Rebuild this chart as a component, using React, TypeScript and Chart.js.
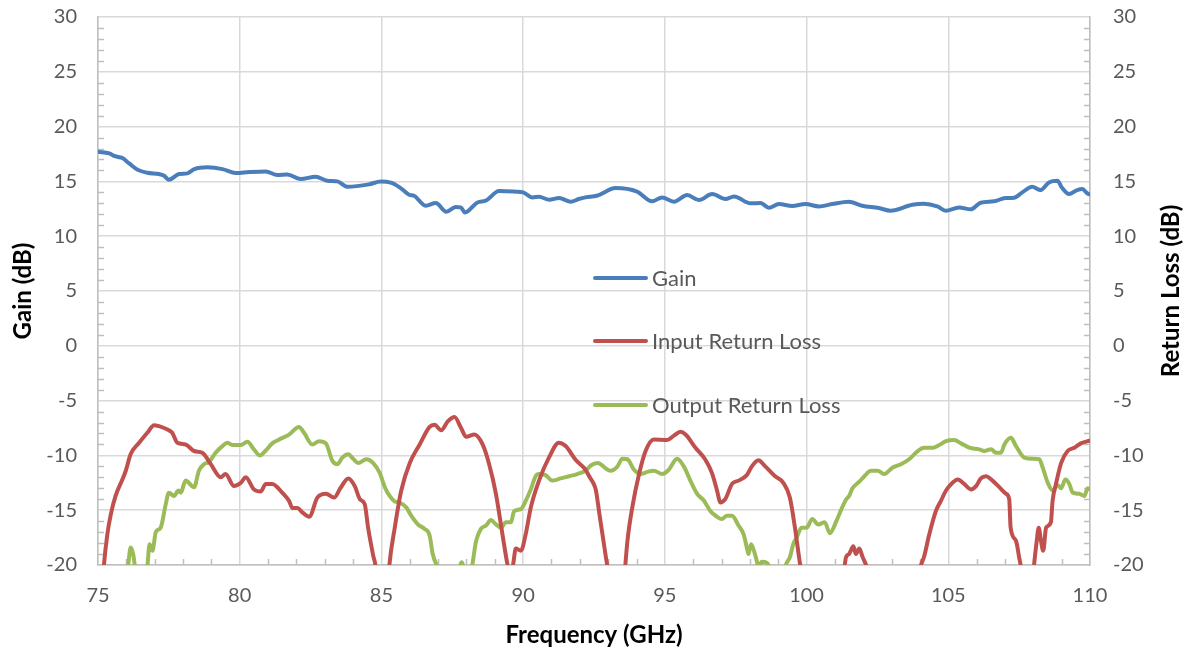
import React, { useEffect, useRef } from 'react';
import { Chart, registerables } from 'chart.js';

Chart.register(...registerables);

// ---------- data ----------
const gainFreq = [75.0, 75.4, 75.6, 75.86, 76.1, 76.4, 76.74, 77.15, 77.33, 77.5, 77.86, 78.15, 78.4, 78.86, 79.39, 79.86, 80.33, 80.92, 81.33, 81.68, 82.15, 82.68, 83.09, 83.45, 83.8, 84.56, 84.98, 85.33, 85.68, 85.98, 86.15, 86.56, 86.92, 87.29, 87.62, 87.8, 87.95, 88.39, 88.68, 89.15, 89.74, 90.0, 90.33, 90.56, 90.92, 91.27, 91.68, 91.96, 92.2, 92.6, 93.26, 94.02, 94.55, 94.9, 95.32, 95.79, 96.2, 96.67, 97.14, 97.44, 98.02, 98.38, 98.67, 99.02, 99.49, 99.96, 100.44, 100.9, 101.49, 101.96, 102.55, 102.96, 103.73, 104.14, 104.61, 104.91, 105.38, 105.79, 106.14, 106.61, 107.02, 107.32, 107.61, 107.96, 108.26, 108.55, 108.85, 109.02, 109.26, 109.55, 109.73, 109.91, 110.0];
const gainDb = [17.7, 17.55, 17.3, 17.13, 16.64, 16.06, 15.79, 15.67, 15.52, 15.15, 15.67, 15.73, 16.12, 16.28, 16.12, 15.76, 15.85, 15.91, 15.58, 15.64, 15.21, 15.43, 15.06, 15.0, 14.51, 14.73, 15.0, 14.88, 14.39, 13.78, 13.69, 12.78, 13.02, 12.23, 12.66, 12.63, 12.17, 13.08, 13.24, 14.12, 14.06, 14.0, 13.54, 13.6, 13.33, 13.48, 13.15, 13.39, 13.54, 13.69, 14.39, 14.06, 13.18, 13.54, 13.15, 13.75, 13.3, 13.84, 13.39, 13.63, 13.0, 13.02, 12.6, 12.93, 12.75, 12.93, 12.72, 12.93, 13.15, 12.78, 12.57, 12.33, 12.87, 12.96, 12.72, 12.33, 12.63, 12.45, 13.05, 13.18, 13.48, 13.51, 14.0, 14.51, 14.21, 14.91, 15.06, 14.39, 13.84, 14.21, 14.3, 13.9, 13.8];

const irlFreq = [75.0, 75.21, 75.33, 75.45, 75.62, 75.86, 75.98, 76.15, 76.45, 76.74, 76.98, 77.15, 77.45, 77.62, 77.8, 78.09, 78.39, 78.68, 78.98, 79.33, 79.5, 79.8, 80.04, 80.21, 80.5, 80.74, 80.92, 81.15, 81.5, 81.74, 81.86, 82.04, 82.21, 82.45, 82.74, 83.04, 83.33, 83.55, 83.83, 84.06, 84.24, 84.41, 84.53, 84.71, 84.8, 85.03, 85.27, 85.47, 85.7, 86.0, 86.35, 86.7, 86.87, 87.11, 87.34, 87.58, 87.81, 87.99, 88.28, 88.57, 88.8, 89.04, 89.27, 89.45, 89.55, 89.65, 89.74, 89.92, 90.09, 90.27, 90.56, 90.91, 91.26, 91.5, 91.85, 92.2, 92.33, 92.49, 92.56, 92.7, 92.92, 92.98, 93.3, 93.6, 93.68, 93.85, 94.09, 94.32, 94.61, 95.08, 95.32, 95.55, 95.73, 96.08, 96.43, 96.66, 96.84, 96.96, 97.13, 97.37, 97.6, 97.89, 98.07, 98.3, 98.54, 98.89, 99.18, 99.41, 99.59, 99.77, 99.85, 100.6, 101.3, 101.39, 101.5, 101.65, 101.74, 101.86, 101.98, 102.1, 102.2, 103.1, 103.95, 104.04, 104.15, 104.33, 104.56, 104.74, 104.92, 105.15, 105.33, 105.56, 105.8, 105.98, 106.15, 106.33, 106.56, 106.8, 107.04, 107.15, 107.2, 107.39, 107.5, 107.56, 107.8, 108.02, 108.12, 108.19, 108.27, 108.35, 108.45, 108.62, 108.68, 108.8, 108.98, 109.21, 109.45, 109.68, 109.92, 110.0];
const irlDb = [-28, -20, -17.2, -15.4, -13.7, -12.2, -11.4, -9.9, -8.85, -7.94, -7.24, -7.33, -7.64, -7.94, -8.85, -9.0, -9.6, -9.76, -10.8, -12.0, -11.7, -12.8, -12.5, -12.0, -13.1, -13.3, -12.6, -12.6, -13.4, -14.15, -14.8, -14.8, -15.2, -15.6, -13.85, -13.5, -13.85, -13.0, -12.1, -12.8, -14.0, -14.45, -16.6, -19.15, -20.3, -30, -20.3, -16.6, -13.2, -10.7, -9.0, -7.4, -7.2, -7.7, -6.9, -6.5, -7.5, -8.3, -8.1, -9.0, -10.8, -13.5, -17.2, -20.0, -21, -19.9, -18.5, -18.7, -17.2, -14.75, -12.3, -10.2, -8.85, -9.15, -10.4, -11.3, -11.9, -12.6, -13.1, -15.5, -19.3, -20.3, -30, -20.2, -17.8, -14.75, -11.7, -9.6, -8.55, -8.6, -8.2, -7.85, -8.1, -9.3, -10.4, -11.6, -13.2, -14.3, -14.0, -12.6, -12.3, -11.8, -11.0, -10.45, -11.0, -11.9, -12.5, -13.85, -16.6, -19.9, -21, -30, -21, -19.3, -19.0, -18.3, -19.0, -18.5, -19.3, -20.0, -21, -30, -21, -20, -19.2, -17.2, -15.1, -14.15, -13.2, -12.5, -12.2, -12.6, -13.1, -12.8, -12.1, -11.9, -12.3, -12.9, -13.5, -14.0, -16.6, -17.8, -19.3, -20.2, -28, -20.2, -17.8, -16.6, -17.8, -18.7, -16.6, -16.1, -14.15, -12.6, -10.7, -9.6, -9.3, -8.9, -8.7, -8.65];

const orlFreq = [75.95, 76.07, 76.15, 76.24, 76.31, 76.5, 76.74, 76.82, 76.92, 77.04, 77.21, 77.39, 77.5, 77.68, 77.84, 77.92, 78.09, 78.39, 78.56, 78.74, 78.92, 79.15, 79.39, 79.56, 79.74, 80.04, 80.27, 80.5, 80.71, 80.92, 81.15, 81.39, 81.74, 82.09, 82.27, 82.56, 82.8, 83.04, 83.27, 83.45, 83.62, 83.83, 84.0, 84.18, 84.47, 84.71, 84.94, 85.12, 85.29, 85.47, 85.64, 85.88, 86.05, 86.29, 86.52, 86.7, 86.81, 86.93, 87.05, 87.3, 87.6, 87.75, 87.83, 87.93, 88.16, 88.34, 88.51, 88.69, 88.86, 89.04, 89.22, 89.39, 89.57, 89.68, 89.92, 90.09, 90.27, 90.44, 90.56, 90.79, 91.03, 91.32, 91.62, 91.91, 92.2, 92.4, 92.62, 93.09, 93.33, 93.5, 93.68, 93.91, 94.15, 94.38, 94.61, 94.91, 95.14, 95.43, 95.67, 95.9, 96.14, 96.37, 96.61, 96.84, 97.01, 97.19, 97.37, 97.6, 97.78, 97.89, 97.95, 98.04, 98.13, 98.24, 98.3, 98.42, 98.6, 98.71, 99.0, 99.3, 99.41, 99.53, 99.65, 99.82, 100.0, 100.2, 100.41, 100.64, 100.82, 101.05, 101.23, 101.4, 101.5, 101.62, 101.86, 102.04, 102.27, 102.51, 102.74, 103.04, 103.33, 103.62, 103.92, 104.15, 104.45, 104.68, 104.92, 105.21, 105.45, 105.74, 106.09, 106.27, 106.51, 106.68, 106.86, 106.98, 107.21, 107.39, 107.68, 107.98, 108.21, 108.33, 108.51, 108.68, 108.86, 108.98, 109.13, 109.27, 109.39, 109.62, 109.8, 109.92, 110.0];
const orlDb = [-22, -19.9, -18.4, -19.0, -20.3, -25, -20.2, -18.1, -18.7, -17.0, -16.6, -14.45, -13.4, -13.7, -13.2, -13.4, -12.3, -12.9, -11.4, -10.8, -10.6, -9.75, -9.15, -8.85, -9.05, -9.05, -8.75, -9.45, -10.0, -9.55, -8.9, -8.55, -8.1, -7.4, -7.94, -9.0, -8.7, -8.9, -10.5, -10.8, -10.2, -9.9, -10.3, -10.7, -10.35, -10.7, -11.6, -12.9, -13.7, -14.2, -14.3, -14.75, -15.5, -16.3, -16.7, -17.3, -19.0, -19.9, -20.3, -20.4, -20.3, -20.2, -19.75, -20.3, -20.3, -17.8, -16.7, -16.4, -15.9, -16.3, -16.6, -16.1, -16.1, -15.1, -14.9, -14.15, -13.1, -11.9, -11.7, -11.8, -12.3, -12.1, -11.9, -11.7, -11.4, -10.9, -10.7, -11.4, -11.0, -10.3, -10.35, -11.3, -11.7, -11.5, -11.4, -11.7, -11.3, -10.3, -11.0, -12.3, -13.5, -14.1, -15.1, -15.6, -15.8, -15.5, -15.5, -16.4, -17.2, -18.4, -19.0, -18.1, -18.6, -19.6, -20.2, -19.7, -19.8, -20.3, -22, -19.8, -19.3, -18.1, -17.5, -16.6, -16.6, -15.8, -16.3, -16.1, -17.1, -16.0, -14.9, -14.0, -13.7, -13.0, -12.4, -11.9, -11.4, -11.4, -11.7, -11.1, -10.8, -10.35, -9.6, -9.3, -9.3, -9.05, -8.7, -8.6, -8.9, -9.3, -9.45, -9.6, -9.45, -9.75, -9.75, -9.0, -8.4, -9.15, -10.2, -10.3, -10.35, -11.1, -12.5, -13.2, -12.7, -13.0, -12.2, -12.6, -13.4, -13.5, -13.7, -13.0, -13.1];

const seriesLabels = ['Gain', 'Input Return Loss', 'Output Return Loss'];
const seriesColors = ['#4a7ebb', '#c0504d', '#9bbb59'];

const xMin = 75, xMax = 110, xStep = 5, xMinorStep = 1;
const yMin = -20, yMax = 30, yStep = 5, yMinorStep = 1;

const xTitle = 'Frequency (GHz)';
const yLeftTitle = 'Gain (dB)';
const yRightTitle = 'Return Loss (dB)';

const FONT = 'Lato';
const TEXT = '#595959';
const GRID = '#d9d9d9';
const AXIS = '#bfbfbf';

const toPoints = (xs: number[], ys: number[]) => xs.map((x, i) => ({ x, y: ys[i] }));

const minorTicksPlugin = {
  id: 'minorTicks',
  beforeDatasetsDraw(chart: any) {
    const { ctx, chartArea } = chart;
    const { left, right, bottom } = chartArea;
    const x = chart.scales.x;
    const y = chart.scales.y;
    ctx.save();
    ctx.strokeStyle = AXIS;
    ctx.lineWidth = 1.5;
    ctx.beginPath();
    for (let v = yMin; v <= yMax; v += yMinorStep) {
      if (v % yStep === 0) continue;
      const py = Math.round(y.getPixelForValue(v)) + 0.5;
      ctx.moveTo(left, py);
      ctx.lineTo(left + 6, py);
      ctx.moveTo(right - 6, py);
      ctx.lineTo(right, py);
    }
    for (let f = xMin; f <= xMax; f += xMinorStep) {
      if (f % xStep === 0) continue;
      const px = Math.round(x.getPixelForValue(f)) + 0.5;
      ctx.moveTo(px, bottom);
      ctx.lineTo(px, bottom - 6);
    }
    ctx.stroke();
    ctx.restore();
  },
};

const titlesLegendPlugin = {
  id: 'titlesLegend',
  afterDraw(chart: any) {
    const { ctx, chartArea } = chart;
    const cy = (chartArea.top + chartArea.bottom) / 2;
    const cx = (chartArea.left + chartArea.right) / 2;
    ctx.save();
    ctx.fillStyle = '#000';
    ctx.font = `bold 24px ${FONT}`;
    ctx.textAlign = 'center';
    ctx.textBaseline = 'middle';
    ctx.fillText(xTitle, cx, 635);
    ctx.save();
    ctx.translate(23, cy);
    ctx.rotate(-Math.PI / 2);
    ctx.fillText(yLeftTitle, 0, 0);
    ctx.restore();
    ctx.save();
    ctx.translate(1171, cy);
    ctx.rotate(-Math.PI / 2);
    ctx.fillText(yRightTitle, 0, 0);
    ctx.restore();

    // legend
    const legendYs = [278, 341, 405];
    ctx.font = `22px ${FONT}`;
    ctx.textAlign = 'left';
    chart.data.datasets.forEach((ds: any, i: number) => {
      const ly = legendYs[i];
      ctx.strokeStyle = ds.borderColor;
      ctx.lineWidth = 4;
      ctx.lineCap = 'round';
      ctx.beginPath();
      ctx.moveTo(595, ly);
      ctx.lineTo(646, ly);
      ctx.stroke();
      ctx.fillStyle = TEXT;
      ctx.fillText(ds.label, 652, ly + 1);
    });
    ctx.restore();
  },
};

const fitVertical = (w: number) => (s: any) => {
  s.width = w;
  s.paddingTop = 0;
  s.paddingBottom = 0;
};

export default function App() {
  const ref = useRef<HTMLCanvasElement>(null);
  useEffect(() => {
    document.body.style.margin = '0';
    const series = [
      toPoints(gainFreq, gainDb),
      toPoints(irlFreq, irlDb),
      toPoints(orlFreq, orlDb),
    ];
    const chart = new Chart(ref.current as HTMLCanvasElement, {
      type: 'line',
      data: {
        datasets: series.map((data, i) => ({
          label: seriesLabels[i],
          data,
          borderColor: seriesColors[i],
          backgroundColor: seriesColors[i],
          borderWidth: 4,
          pointRadius: 0,
          tension: 0.4,
          cubicInterpolationMode: 'monotone' as const,
          borderCapStyle: 'round' as const,
          borderJoinStyle: 'round' as const,
          yAxisID: 'y',
        })),
      },
      options: {
        animation: false,
        responsive: false,
        events: [],
        layout: { padding: { top: 17, left: 0, right: 0, bottom: 0 } },
        plugins: { legend: { display: false }, tooltip: { enabled: false } },
        scales: {
          x: {
            type: 'linear',
            min: xMin,
            max: xMax,
            afterFit: (s: any) => { s.height = 86; s.paddingLeft = 0; s.paddingRight = 0; },
            ticks: { stepSize: xStep, color: TEXT, font: { family: FONT, size: 20 }, padding: 19, maxRotation: 0 },
            grid: { color: GRID, lineWidth: 1.5, drawTicks: false },
            border: { color: AXIS, width: 1.5 },
          },
          y: {
            type: 'linear',
            position: 'left',
            min: yMin,
            max: yMax,
            afterFit: fitVertical(98),
            ticks: { stepSize: yStep, color: TEXT, font: { family: FONT, size: 20 }, padding: 21 },
            grid: { color: GRID, lineWidth: 1.5, drawTicks: false },
            border: { color: AXIS, width: 1.5 },
          },
          y2: {
            type: 'linear',
            position: 'right',
            min: yMin,
            max: yMax,
            afterFit: fitVertical(97),
            ticks: { stepSize: yStep, color: TEXT, font: { family: FONT, size: 20 }, padding: 23 },
            grid: { drawOnChartArea: false, drawTicks: false },
            border: { color: AXIS, width: 1.5 },
          },
        },
      },
      plugins: [minorTicksPlugin, titlesLegendPlugin],
    });
    return () => chart.destroy();
  }, []);
  return (
    <div style={{ width: 1187, height: 651, position: 'relative' }}>
      <canvas ref={ref} width={1187} height={651} />
    </div>
  );
}
